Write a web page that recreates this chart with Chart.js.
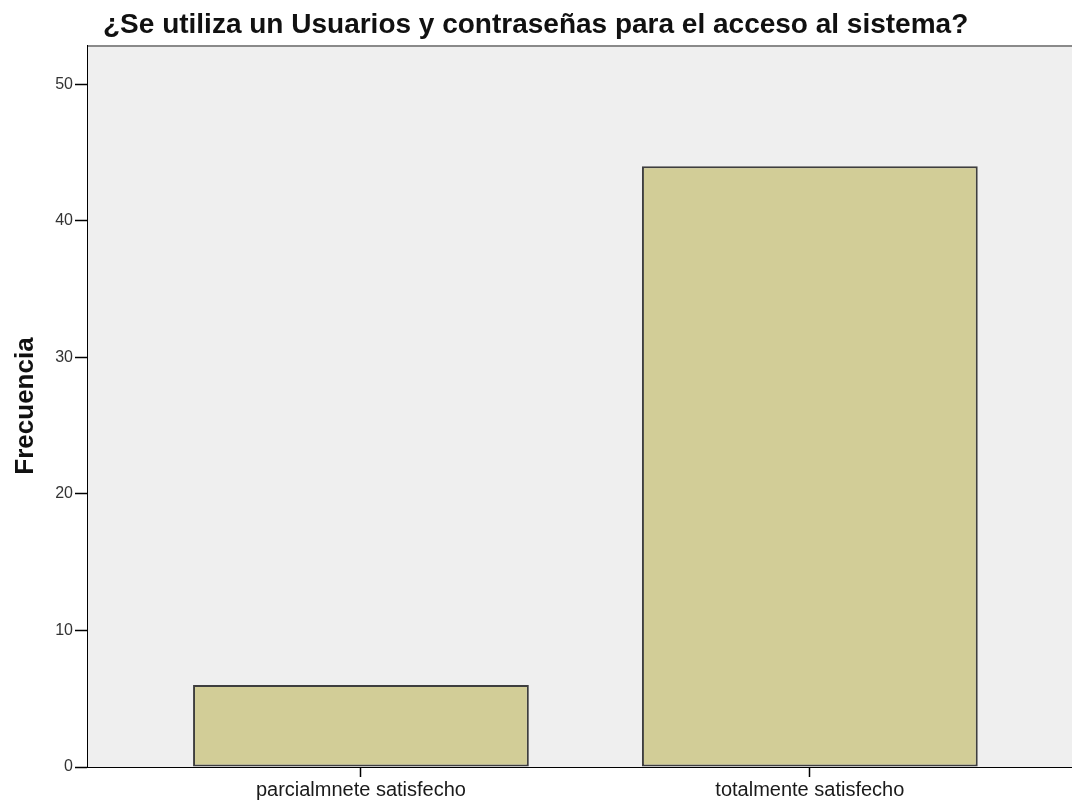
<!DOCTYPE html>
<html>
<head>
<meta charset="utf-8">
<script src="https://cdn.jsdelivr.net/npm/chart.js@4/dist/chart.umd.min.js"></script>
<style>
  html, body { margin: 0; padding: 0; background: #ffffff; overflow: hidden; }
  #wrap { position: relative; width: 1072px; height: 800px; }
</style>
</head>
<body>
<div id="wrap"><canvas id="chart" width="1072" height="800"></canvas></div>
<script>
// Survey answers and their counts
const categories = ['parcialmnete satisfecho', 'totalmente satisfecho'];
const frequencies = [6, 44];
const yTicks = [0, 10, 20, 30, 40, 50];

const chartTitle = '¿Se utiliza un Usuarios y contraseñas para el acceso al sistema?';
const yTitle = 'Frecuencia';

const FONT = '"Liberation Sans", Arial, sans-serif';

// Bars are placed at positions 0..n-1 on a linear axis so the side margins can be set freely
const points = frequencies.map((v, i) => ({ x: i, y: v }));

// Grey panel behind the bars, the top frame line, and the titles
const decor = {
  id: 'decor',
  beforeDatasetsDraw(chart) {
    const { ctx, chartArea: a } = chart;
    ctx.save();
    ctx.fillStyle = '#efefef';
    ctx.fillRect(a.left, a.top, a.right - a.left, a.bottom - a.top);
    ctx.strokeStyle = '#8a8a8a';
    ctx.lineWidth = 2;
    ctx.beginPath();
    ctx.moveTo(a.left, a.top);
    ctx.lineTo(a.right, a.top);
    ctx.stroke();
    ctx.restore();
  },
  afterDraw(chart) {
    const { ctx } = chart;
    ctx.save();
    ctx.fillStyle = '#111';
    ctx.font = 'bold 28px ' + FONT;
    ctx.textAlign = 'left';
    ctx.textBaseline = 'alphabetic';
    ctx.fillText(chartTitle, 103, 33);

    ctx.translate(33, 406);
    ctx.rotate(-Math.PI / 2);
    ctx.font = 'bold 26px ' + FONT;
    ctx.textAlign = 'center';
    ctx.fillText(yTitle, 0, 0);
    ctx.restore();
  }
};

new Chart(document.getElementById('chart'), {
  type: 'bar',
  data: {
    datasets: [{
      data: points,
      backgroundColor: '#d2cd97',
      borderColor: '#3e3e3e',
      borderWidth: 2,
      borderSkipped: false,
      categoryPercentage: 1,
      barPercentage: 0.748
    }]
  },
  plugins: [decor],
  options: {
    responsive: false,
    animation: false,
    events: [],
    layout: { padding: { top: 46, right: 0, bottom: 0, left: 0 } },
    plugins: {
      legend: { display: false },
      title: { display: false },
      tooltip: { enabled: false }
    },
    scales: {
      x: {
        type: 'linear',
        offset: false,
        min: -0.608,
        max: 1.584,
        afterBuildTicks(scale) {
          scale.ticks = categories.map((_, i) => ({ value: i }));
        },
        afterFit(scale) { scale.height = 33; },
        border: { display: true, color: '#000', width: 2 },
        grid: { offset: false, drawOnChartArea: false, drawTicks: true, tickLength: 10, color: '#000', tickWidth: 1.5 },
        ticks: {
          autoSkip: false,
          maxRotation: 0,
          padding: 1,
          color: '#1a1a1a',
          font: { family: FONT, size: 20 },
          callback: (v) => categories[v] ?? ''
        }
      },
      y: {
        type: 'linear',
        min: 0,
        max: 52.8,
        afterBuildTicks(scale) {
          scale.ticks = yTicks.map(v => ({ value: v }));
        },
        afterFit(scale) { scale.width = 88; },
        border: { display: true, color: '#000', width: 2 },
        grid: { drawOnChartArea: false, drawTicks: true, tickLength: 13, color: '#000', tickWidth: 1.5 },
        ticks: {
          padding: 2,
          color: '#333',
          font: { family: FONT, size: 16 }
        }
      }
    }
  }
});
</script>
</body>
</html>
